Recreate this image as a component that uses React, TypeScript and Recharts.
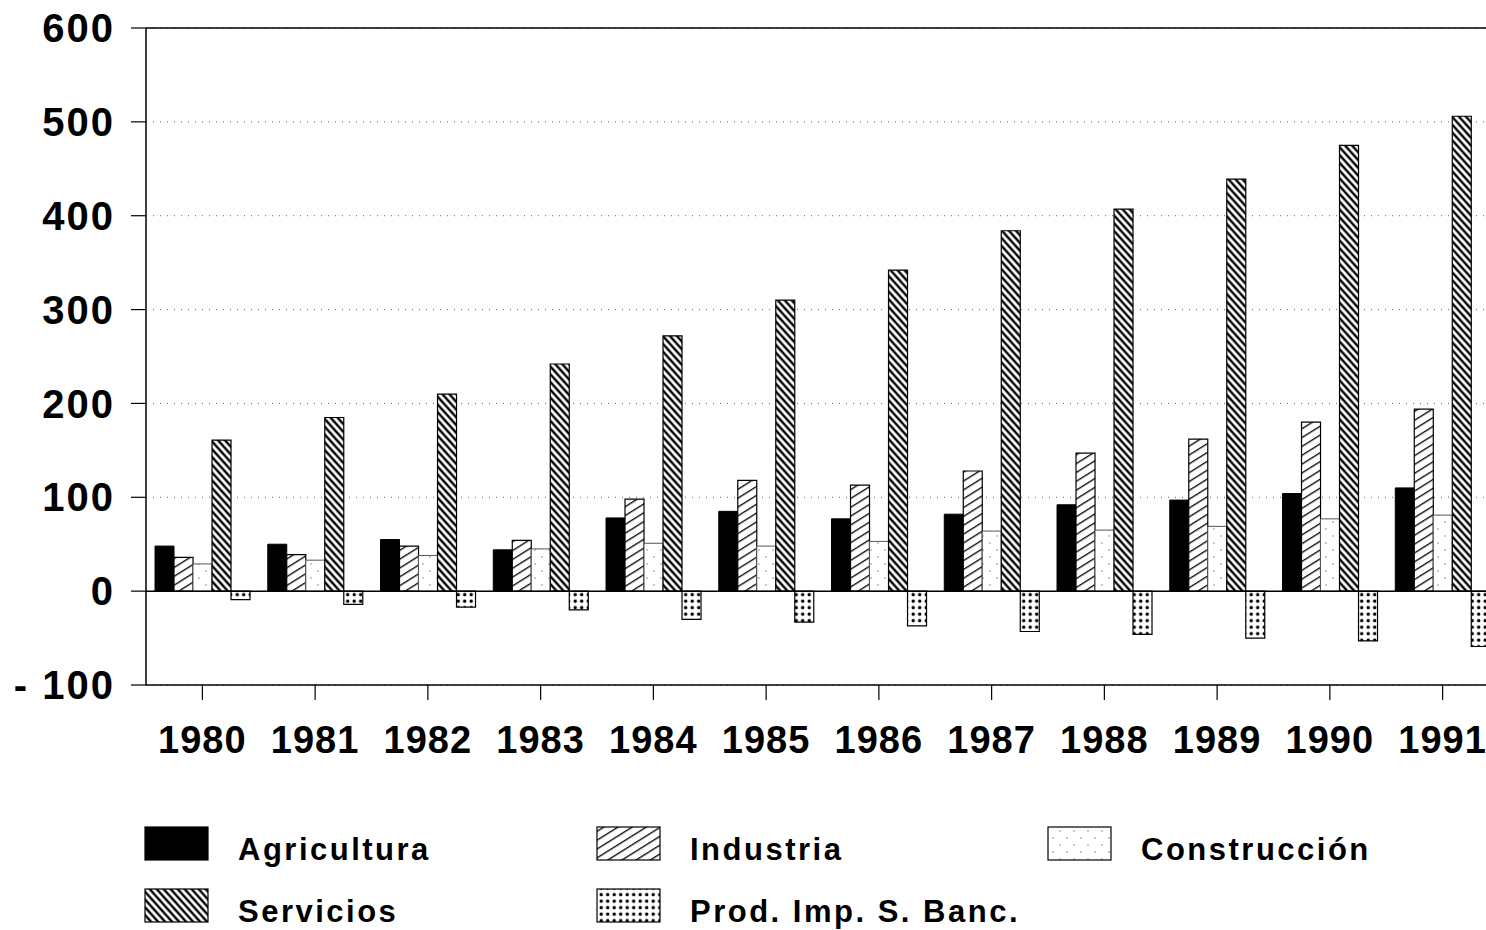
import React from "react";
import { BarChart, Bar, XAxis, YAxis, CartesianGrid, ReferenceLine } from "recharts";

const years = ["1980", "1981", "1982", "1983", "1984", "1985", "1986", "1987", "1988", "1989", "1990", "1991"];
const agricultura = [48, 50, 55, 44, 78, 85, 77, 82, 92, 97, 104, 110];
const industria = [36, 39, 48, 54, 98, 118, 113, 128, 147, 162, 180, 194];
const construccion = [29, 33, 38, 45, 51, 48, 53, 64, 65, 69, 77, 81];
const servicios = [161, 185, 210, 242, 272, 310, 342, 384, 407, 439, 475, 506];
const prodImp = [-9, -14, -17, -20, -30, -33, -37, -43, -46, -50, -53, -59];
const yTicks = [-100, 0, 100, 200, 300, 400, 500, 600];

const data = years.map((year, i) => ({
  year,
  agricultura: agricultura[i],
  industria: industria[i],
  construccion: construccion[i],
  servicios: servicios[i],
  prodImp: prodImp[i]
}));

const font = '"Liberation Sans", Arial, sans-serif';

const Patterns = ({ prefix }: { prefix: string }) => (
  <defs>
    <pattern id={`${prefix}-ind`} patternUnits="userSpaceOnUse" width="20" height="7.5" patternTransform="rotate(-32)">
      <rect width="20" height="7.5" fill="#fff" />
      <line x1="0" y1="3.5" x2="20" y2="3.5" stroke="#000" strokeWidth="1.3" />
    </pattern>
    <pattern id={`${prefix}-serv`} patternUnits="userSpaceOnUse" width="20" height="5.2" patternTransform="rotate(48)">
      <rect width="20" height="5.2" fill="#fff" />
      <line x1="0" y1="2.6" x2="20" y2="2.6" stroke="#000" strokeWidth="2.4" />
    </pattern>
    <pattern id={`${prefix}-cons`} patternUnits="userSpaceOnUse" width="14" height="14">
      <rect width="14" height="14" fill="#fff" />
      <circle cx="3" cy="4" r="0.8" fill="#888" />
      <circle cx="10" cy="11" r="0.8" fill="#888" />
    </pattern>
    <pattern id={`${prefix}-prod`} patternUnits="userSpaceOnUse" width="6.5" height="6.5">
      <rect width="6.5" height="6.5" fill="#fff" />
      <circle cx="3.2" cy="3.2" r="1.7" fill="#000" />
    </pattern>
  </defs>
);

const legendItems = [
  { label: "Agricultura", fill: "#000", x: 145, y: 827 },
  { label: "Industria", fill: "url(#lg-ind)", x: 597, y: 827 },
  { label: "Construcción", fill: "url(#lg-cons)", x: 1048, y: 827 },
  { label: "Servicios", fill: "url(#lg-serv)", x: 145, y: 889 },
  { label: "Prod. Imp. S. Banc.", fill: "url(#lg-prod)", x: 597, y: 889 }
];

const ChartLegend = () => (
  <svg width={1486} height={110} style={{ position: "absolute", left: 0, top: 820 }}>
    <Patterns prefix="lg" />
    {legendItems.map((item) => (
      <g key={item.label}>
        <rect x={item.x} y={item.y - 820} width={63} height={33} fill={item.fill} stroke="#000" strokeWidth={1.2} />
        <text
          x={item.x + 93}
          y={item.y - 820 + 33}
          fontFamily={font}
          fontWeight="bold"
          fontSize={31}
          letterSpacing={2.5}
          fill="#000"
        >
          {item.label}
        </text>
      </g>
    ))}
  </svg>
);

const App: React.FC = () => {
  return (
    <div
      style={{
        position: "fixed",
        left: 0,
        top: 0,
        width: 1486,
        height: 930,
        overflow: "hidden",
        background: "#fff"
      }}
    >
      <BarChart
        width={1500}
        height={930}
        data={data}
        margin={{ top: 28, right: 1, left: 0, bottom: 165 }}
        barCategoryGap="8%"
        barGap={0}
      >
        <Patterns prefix="ch" />
        <CartesianGrid vertical={false} horizontal stroke="#666" strokeDasharray="1 6" />
        <XAxis
          dataKey="year"
          height={80}
          tickSize={15}
          tickMargin={26}
          axisLine={{ stroke: "#000", strokeWidth: 1.5 }}
          tickLine={{ stroke: "#000", strokeWidth: 1.2 }}
          tick={{ fill: "#000", fontFamily: font, fontWeight: "bold", fontSize: 38, letterSpacing: 1 }}
        />
        <YAxis
          type="number"
          domain={[-100, 600]}
          ticks={yTicks}
          width={146}
          tickSize={15}
          tickMargin={16}
          interval={0}
          axisLine={{ stroke: "#000", strokeWidth: 1.5 }}
          tickLine={{ stroke: "#000", strokeWidth: 1.2 }}
          tickFormatter={(v: number) => (v < 0 ? `- ${Math.abs(v)}` : `${v}`)}
          tick={{ fill: "#000", fontFamily: font, fontWeight: "bold", fontSize: 40, letterSpacing: 2 }}
        />
        <ReferenceLine y={600} stroke="#000" strokeWidth={1.5} />
        <Bar dataKey="agricultura" fill="#000" stroke="#000" strokeWidth={1} isAnimationActive={false} />
        <Bar dataKey="industria" fill="url(#ch-ind)" stroke="#000" strokeWidth={1.2} isAnimationActive={false} />
        <Bar dataKey="construccion" fill="url(#ch-cons)" stroke="#555" strokeWidth={1} isAnimationActive={false} />
        <Bar dataKey="servicios" fill="url(#ch-serv)" stroke="#000" strokeWidth={1.2} isAnimationActive={false} />
        <Bar dataKey="prodImp" fill="url(#ch-prod)" stroke="#000" strokeWidth={1.2} isAnimationActive={false} />
        <ReferenceLine y={0} stroke="#000" strokeWidth={1.5} />
      </BarChart>
      <ChartLegend />
    </div>
  );
};

export default App;
